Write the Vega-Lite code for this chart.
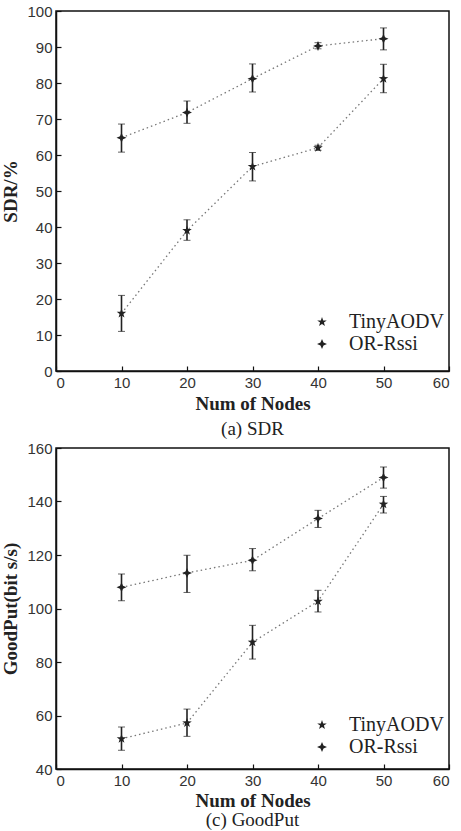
{
  "$schema": "https://vega.github.io/schema/vega-lite/v6.json",
  "padding": {"left": 1, "top": 3, "right": 8, "bottom": 0},
  "background": "white",
  "datasets": {
    "sdr": [
      {"nodes": 10, "series": "TinyAODV", "value": 16.0, "lo": 11.0, "hi": 21.0},
      {"nodes": 20, "series": "TinyAODV", "value": 39.0, "lo": 36.3, "hi": 42.0},
      {"nodes": 30, "series": "TinyAODV", "value": 56.8, "lo": 52.8, "hi": 60.7},
      {"nodes": 40, "series": "TinyAODV", "value": 62.0, "lo": 61.3, "hi": 62.7},
      {"nodes": 50, "series": "TinyAODV", "value": 81.2, "lo": 77.3, "hi": 85.2},
      {"nodes": 10, "series": "OR-Rssi", "value": 64.8, "lo": 60.8, "hi": 68.6},
      {"nodes": 20, "series": "OR-Rssi", "value": 71.8, "lo": 68.8, "hi": 75.0},
      {"nodes": 30, "series": "OR-Rssi", "value": 81.2, "lo": 77.5, "hi": 85.3},
      {"nodes": 40, "series": "OR-Rssi", "value": 90.3, "lo": 89.5, "hi": 91.2},
      {"nodes": 50, "series": "OR-Rssi", "value": 92.3, "lo": 89.2, "hi": 95.3}
    ],
    "goodput": [
      {"nodes": 10, "series": "TinyAODV", "value": 51.3, "lo": 47.0, "hi": 55.7},
      {"nodes": 20, "series": "TinyAODV", "value": 57.2, "lo": 52.2, "hi": 62.4},
      {"nodes": 30, "series": "TinyAODV", "value": 87.4, "lo": 81.1, "hi": 93.7},
      {"nodes": 40, "series": "TinyAODV", "value": 102.7, "lo": 98.7, "hi": 106.8},
      {"nodes": 50, "series": "TinyAODV", "value": 139.0, "lo": 135.7, "hi": 141.9},
      {"nodes": 10, "series": "OR-Rssi", "value": 107.9, "lo": 102.9, "hi": 112.9},
      {"nodes": 20, "series": "OR-Rssi", "value": 113.3, "lo": 106.0, "hi": 119.9},
      {"nodes": 30, "series": "OR-Rssi", "value": 118.0, "lo": 114.1, "hi": 122.4},
      {"nodes": 40, "series": "OR-Rssi", "value": 133.6, "lo": 130.3, "hi": 136.7},
      {"nodes": 50, "series": "OR-Rssi", "value": 149.0, "lo": 145.0, "hi": 152.9}
    ]
  },
  "config": {
    "view": {"stroke": "#111", "strokeWidth": 1.5},
    "axis": {
      "labelFont": "Liberation Sans",
      "labelFontSize": 15,
      "labelColor": "#333",
      "titleFont": "Liberation Serif",
      "titleFontSize": 19,
      "titleFontWeight": "bold",
      "titleColor": "#222",
      "grid": false,
      "domainColor": "#111",
      "domainWidth": 1.5,
      "tickColor": "#111",
      "tickWidth": 1.2,
      "tickSize": -5,
      "labelPadding": 9
    },
    "legend": {
      "labelFont": "Liberation Serif",
      "labelFontSize": 20,
      "labelColor": "#222",
      "symbolFillColor": "#222",
      "symbolStrokeColor": "#222",
      "symbolStrokeWidth": 0,
      "symbolSize": 100,
      "rowPadding": 2,
      "labelOffset": 17
    },
    "title": {"font": "Liberation Serif", "fontSize": 19, "fontWeight": "normal", "color": "#222"}
  },
  "spacing": 0,
  "vconcat": [
    {
      "width": 393,
      "height": 360,
      "title": {"text": "(a) SDR", "orient": "bottom", "offset": 7},
      "data": {"name": "sdr"},
      "encoding": {
        "x": {"field": "nodes", "type": "quantitative", "scale": {"domain": [0, 60], "nice": false},
              "axis": {"values": [0, 10, 20, 30, 40, 50, 60], "title": "Num of Nodes", "titlePadding": 4}}
      },
      "layer": [
        {
          "mark": {"type": "line", "strokeDash": [1.5, 3], "strokeWidth": 1.3, "color": "#777"},
          "encoding": {
            "y": {"field": "value", "type": "quantitative", "scale": {"domain": [0, 100], "nice": false},
                  "axis": {"values": [0, 10, 20, 30, 40, 50, 60, 70, 80, 90, 100], "title": "SDR/%", "titlePadding": 6}},
            "detail": {"field": "series"}
          }
        },
        {
          "mark": {"type": "errorbar", "ticks": {"size": 7, "color": "#222", "strokeWidth": 1.6}, "rule": {"color": "#222", "strokeWidth": 1.6}},
          "encoding": {
            "y": {"field": "lo", "type": "quantitative",
                  "axis": {"values": [0, 10, 20, 30, 40, 50, 60, 70, 80, 90, 100], "title": "SDR/%", "titlePadding": 6}},
            "y2": {"field": "hi"},
            "detail": {"field": "series"}
          }
        },
        {
          "mark": {"type": "point", "filled": true, "color": "#222", "opacity": 1, "size": 100},
          "encoding": {
            "y": {"field": "value", "type": "quantitative",
                  "axis": {"values": [0, 10, 20, 30, 40, 50, 60, 70, 80, 90, 100], "title": "SDR/%", "titlePadding": 6}},
            "shape": {
              "field": "series", "type": "nominal",
              "scale": {"domain": ["TinyAODV", "OR-Rssi"],
                        "range": ["M0,-1L0.235,-0.324L0.951,-0.309L0.38,0.124L0.588,0.809L0,0.4L-0.588,0.809L-0.38,0.124L-0.951,-0.309L-0.235,-0.324Z",
                                  "M0,-1L0.3,-0.3L1,0L0.3,0.3L0,1L-0.3,0.3L-1,0L-0.3,-0.3Z"]},
              "legend": {"title": null, "orient": "none", "legendX": 256, "legendY": 301}
            }
          }
        }
      ]
    },
    {
      "width": 393,
      "height": 321,
      "title": {"text": "(c) GoodPut", "orient": "bottom", "offset": 1},
      "data": {"name": "goodput"},
      "encoding": {
        "x": {"field": "nodes", "type": "quantitative", "scale": {"domain": [0, 60], "nice": false},
              "axis": {"values": [0, 10, 20, 30, 40, 50, 60], "title": "Num of Nodes", "titlePadding": 3}}
      },
      "layer": [
        {
          "mark": {"type": "line", "strokeDash": [1.5, 3], "strokeWidth": 1.3, "color": "#777"},
          "encoding": {
            "y": {"field": "value", "type": "quantitative", "scale": {"domain": [40, 160], "nice": false},
                  "axis": {"values": [40, 60, 80, 100, 120, 140, 160], "title": "GoodPut(bit s/s)", "titlePadding": 6}},
            "detail": {"field": "series"}
          }
        },
        {
          "mark": {"type": "errorbar", "ticks": {"size": 7, "color": "#222", "strokeWidth": 1.6}, "rule": {"color": "#222", "strokeWidth": 1.6}},
          "encoding": {
            "y": {"field": "lo", "type": "quantitative",
                  "axis": {"values": [40, 60, 80, 100, 120, 140, 160], "title": "GoodPut(bit s/s)", "titlePadding": 6}},
            "y2": {"field": "hi"},
            "detail": {"field": "series"}
          }
        },
        {
          "mark": {"type": "point", "filled": true, "color": "#222", "opacity": 1, "size": 100},
          "encoding": {
            "y": {"field": "value", "type": "quantitative",
                  "axis": {"values": [40, 60, 80, 100, 120, 140, 160], "title": "GoodPut(bit s/s)", "titlePadding": 6}},
            "shape": {
              "field": "series", "type": "nominal",
              "scale": {"domain": ["TinyAODV", "OR-Rssi"],
                        "range": ["M0,-1L0.235,-0.324L0.951,-0.309L0.38,0.124L0.588,0.809L0,0.4L-0.588,0.809L-0.38,0.124L-0.951,-0.309L-0.235,-0.324Z",
                                  "M0,-1L0.3,-0.3L1,0L0.3,0.3L0,1L-0.3,0.3L-1,0L-0.3,-0.3Z"]},
              "legend": {"title": null, "orient": "none", "legendX": 256, "legendY": 267}
            }
          }
        }
      ]
    }
  ],
  "resolve": {"scale": {"shape": "independent"}, "legend": {"shape": "independent"}}
}
